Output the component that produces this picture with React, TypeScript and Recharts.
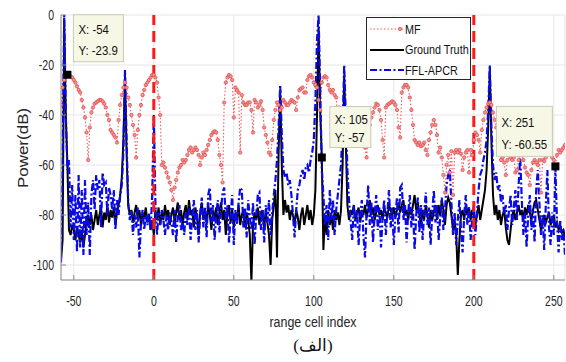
import React from "react";
import {
  LineChart,
  Line,
  XAxis,
  YAxis,
  CartesianGrid,
  ReferenceLine,
  ReferenceDot,
} from "recharts";

// range cell index of the first sample, one sample per cell
const FIRST_CELL = -58;

// MF (matched filter) response, dB, rows of 10 cells starting at the commented index
const mf = [
  /* -58 */ -36, -29, -26, -24.5, -23.9, -24, -24.5, -25, -26, -27,
  /* -48 */ -28.5, -30, -31, -34, -37, -41, -47, -58, -45, -39,
  /* -38 */ -37, -35.5, -35, -34.5, -34, -34, -34.5, -35.5, -37, -40,
  /* -28 */ -42, -46, -47, -48, -49, -51, -42, -36, -32, -29,
  /* -18 */ -27, -29, -33, -36, -40, -44, -48, -57, -46, -40,
  /* -8 */ -36, -32, -30, -28, -27, -26, -25, -24, -24, -25,
  /* 2 */ -27, -33, -40, -60, -59, -61, -63, -65, -67, -70,
  /* 12 */ -74, -69, -66, -63, -61, -60, -58, -59, -58, -56,
  /* 22 */ -54, -53, -55, -54, -53, -54, -56, -60, -57, -55,
  /* 32 */ -56, -54, -52, -50, -48, -47, -46.5, -47, -50, -56,
  /* 42 */ -60, -67, -35, -27, -25, -24, -24.5, -26, -41, -29,
  /* 52 */ -30, -31, -55, -32, -35, -36, -36, -35, -35, -38,
  /* 62 */ -47, -34, -35, -37, -36, -34.5, -38, -45, -48, -51,
  /* 72 */ -55, -56, -50, -42, -38, -35, -36, -38, -37, -34,
  /* 82 */ -35, -36, -36, -35, -34, -34.5, -35, -38, -33, -30,
  /* 92 */ -29.5, -29, -31, -31, -26, -24.5, -24, -25, -27, -28,
  /* 102 */ -29, -34, -38, -27, -25, -24.5, -25, -28, -30, -31,
  /* 112 */ -30, -32, -33, -43, -37, -41, -40, -39, -44, -42,
  /* 122 */ -45, -47, -49, -50, -51, -49, -48, -47, -50, -51,
  /* 132 */ -53, -57, -48, -44, -41, -39, -37, -35.5, -36, -38,
  /* 142 */ -42, -50, -57, -37, -36, -35.5, -35, -34.5, -35, -36,
  /* 152 */ -38, -45, -49, -31, -29, -28, -28, -29, -33, -38,
  /* 162 */ -44, -50, -51, -52, -51, -52.5, -52, -51, -54, -56,
  /* 172 */ -50, -47, -44, -42, -44, -48, -55, -53, -57, -64,
  /* 182 */ -71, -60, -56, -63, -54.5, -72, -55, -54, -55, -54,
  /* 192 */ -55.5, -62, -57, -55, -54, -63, -54, -56, -50, -47,
  /* 202 */ -48, -50, -55, -46, -42, -39, -37, -35.5, -35, -36,
  /* 212 */ -39, -42, -45, -50, -55, -58, -57, -59, -64, -58,
  /* 222 */ -55, -57, -58, -57, -63, -62, -58, -55, -56, -58,
  /* 232 */ -61, -63, -64, -68, -62, -59, -58, -59, -60, -58,
  /* 242 */ -71, -58, -58.5, -57, -55, -54, -55, -57, -58, -60.55,
  /* 252 */ -56, -54, -55, -54, -53, -52,
];

// Ground Truth, dB
const groundTruth = [
  /* -58 */ -98, -90, -2, -40, -60, -86, -88, -84, -86, -90,
  /* -48 */ -85, -88, -91, -86, -93, -88, -82, -80, -84, -80,
  /* -38 */ -86, -82, -78, -84, -80, -77, -85, -79, -82, -76,
  /* -28 */ -83, -78, -81, -77, -84, -79, -76, -72, -65, -50,
  /* -18 */ -24, -55, -76, -80, -78, -83, -79, -76, -82, -78,
  /* -8 */ -84, -79, -81, -77, -83, -80, -86, -82, -88, -78,
  /* 2 */ -82, -77, -84, -79, -82, -76, -81, -78, -84, -80,
  /* 12 */ -77, -83, -79, -75, -82, -78, -84, -79, -76, -82,
  /* 22 */ -74, -80, -78, -85, -77, -81, -88, -79, -75, -82,
  /* 32 */ -78, -84, -76, -80, -86, -78, -82, -77, -84, -79,
  /* 42 */ -75, -82, -78, -88, -80, -76, -83, -78, -85, -79,
  /* 52 */ -82, -76, -84, -80, -78, -85, -79, -82, -88, -107,
  /* 62 */ -84, -79, -82, -77, -84, -80, -78, -85, -79, -83,
  /* 72 */ -88, -100, -82, -76, -70, -97, -55, -30, -60, -80,
  /* 82 */ -74, -79, -76, -82, -78, -80, -84, -78, -81, -86,
  /* 92 */ -80, -77, -84, -80, -76, -82, -78, -84, -80, -70,
  /* 102 */ -40, -5, -38, -57, -94, -80, -88, -78, -84, -80,
  /* 112 */ -86, -78, -82, -79, -84, -78, -60, -24, -50, -76,
  /* 122 */ -82, -78, -80, -76, -82, -79, -77, -83, -78, -80,
  /* 132 */ -76, -81, -78, -74, -80, -77, -82, -79, -76, -80,
  /* 142 */ -78, -82, -77, -79, -81, -76, -78, -80, -77, -81,
  /* 152 */ -78, -75, -79, -76, -74, -80, -78, -82, -77, -80,
  /* 162 */ -76, -72, -78, -75, -80, -84, -78, -82, -76, -80,
  /* 172 */ -85, -78, -82, -79, -76, -82, -76, -80, -74, -78,
  /* 182 */ -84, -76, -73, -75, -80, -86, -82, -88, -104, -90,
  /* 192 */ -80, -78, -82, -76, -80, -77, -82, -78, -80, -84,
  /* 202 */ -80, -76, -82, -78, -74, -70, -62, -45, -22, -50,
  /* 212 */ -72, -80, -76, -82, -78, -84, -80, -78, -85, -90,
  /* 222 */ -92, -86, -80, -78, -82, -79, -76, -80, -78, -82,
  /* 232 */ -77, -80, -76, -79, -82, -78, -75, -74, -78, -82,
  /* 242 */ -86, -84, -80, -83, -81, -79, -84, -82, -80, -85,
  /* 252 */ -83, -86, -84, -87, -86, -89,
];

// FFL-APCR estimate, dB
const fflApcr = [
  /* -58 */ -99, -60, 0, -40, -62, -58, -85, -68, -90, -72,
  /* -48 */ -95, -64, -93, -70, -96, -66, -88, -75, -96, -72,
  /* -38 */ -66, -78, -64, -70, -66, -85, -63, -68, -67, -80,
  /* -28 */ -69, -72, -78, -70, -86, -74, -80, -72, -68, -55,
  /* -18 */ -22, -50, -75, -82, -78, -88, -80, -85, -77, -97,
  /* -8 */ -83, -78, -86, -80, -84, -79, -86, -72, -40, -75,
  /* 2 */ -88, -79, -84, -78, -82, -88, -80, -86, -79, -83,
  /* 12 */ -88, -78, -91, -80, -76, -86, -82, -88, -79, -84,
  /* 22 */ -76, -90, -81, -74, -86, -78, -91, -80, -73, -85,
  /* 32 */ -77, -89, -72, -69, -83, -76, -90, -80, -74, -87,
  /* 42 */ -78, -71, -69, -82, -76, -91, -80, -72, -92, -78,
  /* 52 */ -84, -75, -69, -70, -85, -77, -89, -74, -81, -86,
  /* 62 */ -75, -92, -80, -72, -71, -86, -78, -91, -76, -83,
  /* 72 */ -74, -88, -79, -72, -66, -58, -45, -28, -48, -62,
  /* 82 */ -65, -63, -68, -66, -72, -80, -89, -78, -70, -68,
  /* 92 */ -64, -62, -66, -61, -60, -63, -58, -55, -50, -35,
  /* 102 */ -10, 0, -30, -62, -72, -84, -76, -90, -70, -82,
  /* 112 */ -74, -88, -78, -72, -66, -60, -45, -20, -40, -62,
  /* 122 */ -74, -82, -90, -76, -85, -78, -92, -80, -74, -88,
  /* 132 */ -97, -79, -68, -84, -75, -91, -80, -72, -86, -77,
  /* 142 */ -93, -81, -74, -88, -79, -70, -85, -77, -92, -80,
  /* 152 */ -73, -87, -69, -68, -82, -76, -91, -79, -72, -85,
  /* 162 */ -78, -94, -80, -73, -87, -76, -90, -79, -71, -84,
  /* 172 */ -77, -92, -80, -70, -83, -76, -90, -81, -73, -86,
  /* 182 */ -78, -68, -64, -62, -75, -88, -79, -92, -82, -74,
  /* 192 */ -86, -95, -80, -72, -84, -77, -90, -82, -76, -88,
  /* 202 */ -79, -70, -64, -62, -58, -55, -50, -38, -20, -45,
  /* 212 */ -60, -66, -63, -70, -68, -75, -72, -80, -76, -86,
  /* 222 */ -78, -72, -84, -77, -70, -82, -68, -57, -74, -88,
  /* 232 */ -79, -93, -80, -72, -86, -78, -91, -70, -62, -75,
  /* 242 */ -88, -80, -94, -76, -62, -85, -92, -79, -88, -61,
  /* 252 */ -83, -95, -82, -90, -86, -96,
];

const xTicks = [-50, 0, 50, 100, 150, 200, 250];
const yTicks = [-100, -80, -60, -40, -20, 0];
const guardCells = [0, 200];

// data tips shown on the figure
const tipPoints = [
  { x: -54, y: -23.9 },
  { x: 105, y: -57 },
  { x: 251, y: -60.55 },
];
// where each tip box sits relative to its marker (px)
const tipBoxes = [
  { dx: 6, dy: -60, w: 50, h: 47 },
  { dx: 8, dy: -51, w: 41, h: 41 },
  { dx: -59, dy: -60, w: 56, h: 50 },
];

const table = mf.map((v, i) => ({
  cell: FIRST_CELL + i,
  mf: v,
  gt: groundTruth[i],
  ffl: fflApcr[i],
}));

const FONT = '"Liberation Sans", Arial, sans-serif';
const FRAME = "#8c8c8c";
const INK = "#262626";
const MF_LINE = "#f05a5a";

// the source figure is squeezed sideways, so text is narrowed to match
function XTick(props: any) {
  const { x, y, payload } = props;
  return (
    <text
      transform={`translate(${x} ${y}) scale(0.75 1)`}
      textAnchor="middle"
      dy="0.71em"
      fontSize={14}
      fontFamily={FONT}
      fill={INK}
    >
      {payload.value}
    </text>
  );
}

function YTick(props: any) {
  const { x, y, payload } = props;
  return (
    <text
      transform={`translate(${x} ${y}) scale(0.75 1)`}
      textAnchor="end"
      dy="0.355em"
      fontSize={14}
      fontFamily={FONT}
      fill={INK}
    >
      {payload.value}
    </text>
  );
}

function DataTip(props: any) {
  const { cx, cy, idx } = props;
  if (cx === undefined || cy === undefined) return null;
  const p = tipPoints[idx];
  const b = tipBoxes[idx];
  const bx = cx + b.dx;
  const by = cy + b.dy;
  return (
    <g>
      <rect x={bx} y={by} width={b.w} height={b.h} fill="#f7f7e6" stroke="#c9c9b8" />
      <text
        transform={`translate(${bx + 5} ${by + b.h * 0.42}) scale(0.88 1)`}
        fontSize={13}
        fontFamily={FONT}
        fill="#111"
      >
        {`X: ${p.x}`}
      </text>
      <text
        transform={`translate(${bx + 5} ${by + b.h * 0.86}) scale(0.88 1)`}
        fontSize={13}
        fontFamily={FONT}
        fill="#111"
      >
        {`Y: ${p.y}`}
      </text>
      <rect x={cx - 4} y={cy - 4} width={8} height={8} fill="#000" />
    </g>
  );
}

function LegendBox() {
  const rows = [
    { name: "MF", kind: "mf" },
    { name: "Ground Truth", kind: "gt" },
    { name: "FFL-APCR", kind: "ffl" },
  ];
  return (
    <div
      style={{
        position: "absolute",
        left: 366,
        top: 17,
        width: 103,
        height: 61,
        background: "#fff",
        border: "1px solid #262626",
        fontFamily: FONT,
        fontSize: 13.5,
        color: "#111",
      }}
    >
      {rows.map((r, i) => (
        <div
          key={r.name}
          style={{
            position: "absolute",
            left: 0,
            top: 1 + i * 20.5,
            height: 20,
            display: "flex",
            alignItems: "center",
            whiteSpace: "nowrap",
          }}
        >
          <svg width={38} height={20} style={{ display: "block", flex: "none" }}>
            {r.kind === "mf" && (
              <g>
                <line x1={3} y1={10} x2={37} y2={10} stroke={MF_LINE} strokeWidth={1.1} strokeDasharray="1.5 2" />
                <circle cx={33} cy={10} r={1.7} fill="#f29292" stroke="#e04848" strokeWidth={0.7} />
              </g>
            )}
            {r.kind === "gt" && <line x1={3} y1={10} x2={37} y2={10} stroke="#000" strokeWidth={2} />}
            {r.kind === "ffl" && (
              <line x1={3} y1={10} x2={37} y2={10} stroke="#0a0ae6" strokeWidth={2.2} strokeDasharray="7 2.5 2 2.5" />
            )}
          </svg>
          <span style={{ display: "inline-block", transform: "scaleX(0.8)", transformOrigin: "left center" }}>
            {r.name}
          </span>
        </div>
      ))}
    </div>
  );
}

export default function App() {
  return (
    <div style={{ position: "absolute", left: 0, top: 0, width: 566, height: 362, background: "#fff" }}>
      <LineChart
        width={566}
        height={362}
        data={table}
        margin={{ top: 15, right: 1, left: 0, bottom: 0 }}
      >
        <CartesianGrid stroke="#e6e6e6" strokeWidth={1} />
        <XAxis
          dataKey="cell"
          type="number"
          domain={[-58, 257]}
          allowDataOverflow
          ticks={xTicks}
          height={82}
          stroke={FRAME}
          tickSize={-5}
          tickMargin={21}
          tick={<XTick />}
        />
        <XAxis
          xAxisId="top"
          orientation="top"
          dataKey="cell"
          type="number"
          domain={[-58, 257]}
          allowDataOverflow
          ticks={xTicks}
          height={0}
          stroke={FRAME}
          tickSize={-5}
          tick={false}
        />
        <YAxis
          type="number"
          domain={[-106, 0]}
          allowDataOverflow
          ticks={yTicks}
          width={61}
          stroke={FRAME}
          tickSize={-5}
          tickMargin={12}
          tick={<YTick />}
        />
        <YAxis
          yAxisId="right"
          orientation="right"
          type="number"
          domain={[-106, 0]}
          allowDataOverflow
          ticks={yTicks}
          width={0}
          stroke={FRAME}
          tickSize={-5}
          tick={false}
        />
        <Line
          dataKey="mf"
          stroke={MF_LINE}
          strokeWidth={1.1}
          strokeDasharray="1.5 2"
          dot={{ r: 1.7, fill: "#f29292", stroke: "#e04848", strokeWidth: 0.7, strokeDasharray: "none" }}
          activeDot={false}
          isAnimationActive={false}
        />
        <Line
          dataKey="gt"
          stroke="#000"
          strokeWidth={2}
          dot={false}
          activeDot={false}
          isAnimationActive={false}
        />
        <Line
          dataKey="ffl"
          stroke="#0a0ae6"
          strokeWidth={2.2}
          strokeDasharray="7 2.5 2 2.5"
          dot={false}
          activeDot={false}
          isAnimationActive={false}
        />
        {guardCells.map((c) => (
          <ReferenceLine key={c} x={c} stroke="#ff1a1a" strokeWidth={3} strokeDasharray="11 6" />
        ))}
        {tipPoints.map((p, i) => (
          <ReferenceDot
            key={i}
            x={p.x}
            y={p.y}
            r={4}
            shape={(props: any) => <DataTip {...props} idx={i} />}
          />
        ))}
      </LineChart>
      <LegendBox />
      <svg
        width={566}
        height={362}
        style={{ position: "absolute", left: 0, top: 0, pointerEvents: "none" }}
      >
        <text
          transform="translate(313 327) scale(0.83 1)"
          textAnchor="middle"
          fontSize={15}
          fontFamily={FONT}
          fill={INK}
        >
          range cell index
        </text>
        <text
          transform="translate(28 148) rotate(-90) scale(1 0.85)"
          textAnchor="middle"
          fontSize={17}
          fontFamily={FONT}
          fill={INK}
        >
          Power(dB)
        </text>
      </svg>
      <div
        style={{
          position: "absolute",
          left: 0,
          width: 626,
          top: 335,
          textAlign: "center",
          fontFamily: '"Liberation Serif", "DejaVu Serif", serif',
          fontSize: 17,
          color: "#111",
        }}
      >
        (الف)
      </div>
    </div>
  );
}
